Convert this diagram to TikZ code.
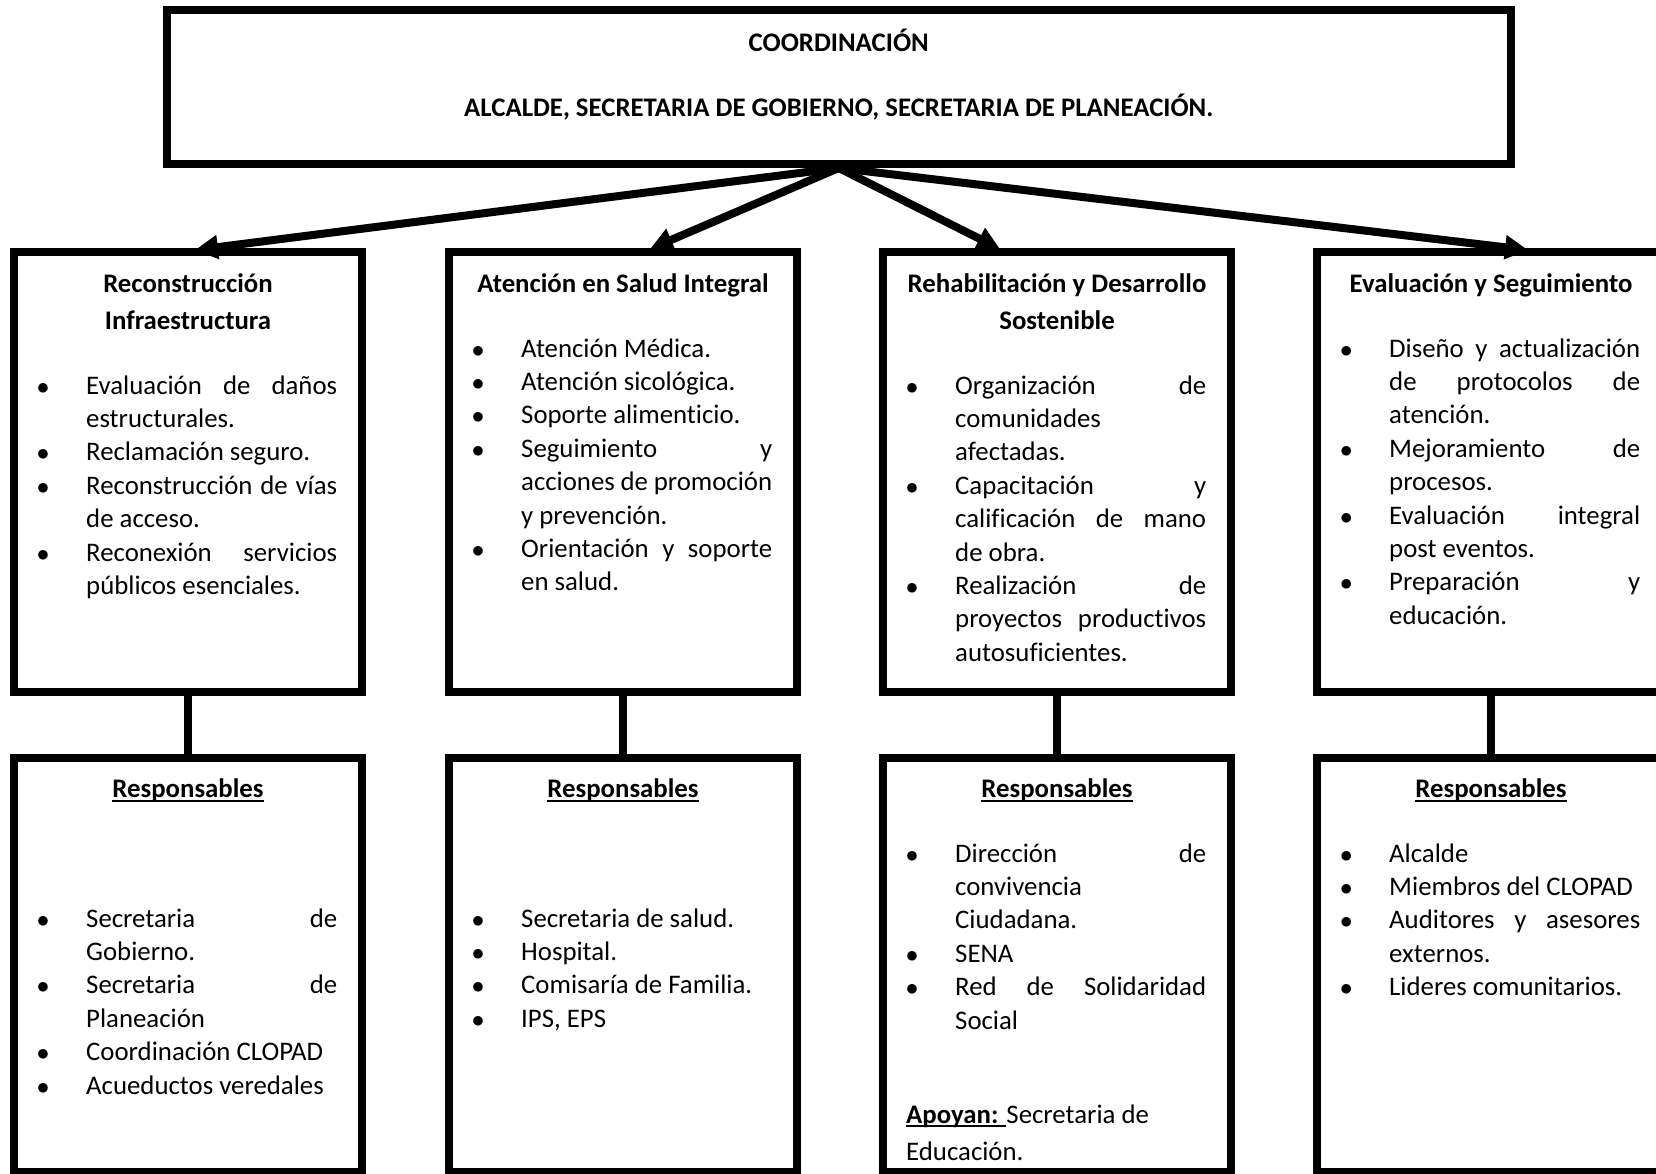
\documentclass[tikz,border=0pt]{standalone}
\usepackage{fontspec}
\setmainfont{Carlito}[RawFeature={-liga;-dlig;-clig}]
\usetikzlibrary{arrows.meta}
\newlength\colw \setlength\colw{251pt}
\newcommand\bulmark{\llap{\hbox to 43pt{\hbox to 0pt{\hss$\bullet$\hss}\hfil}}}
\newcommand\bj[1]{\hbox to\colw{\bulmark #1}}
\newcommand\bl[1]{\hbox to\colw{\bulmark #1\hfil}}
\newcommand\cj[1]{\hbox to\colw{#1}}
\newcommand\cl[1]{\hbox to\colw{#1\hfil}}
\newcommand\lst[1]{\vtop{\baselineskip=33.4pt\lineskiplimit=-100pt\hsize=\colw #1}}
\newcommand\twoc[2]{\vtop{\baselineskip=37pt\lineskiplimit=-100pt\halign{\hfil##\hfil\cr #1\cr #2\cr}}}
\newcommand\ulx[1]{\setbox0\hbox{#1}\rlap{\rule[-4pt]{\wd0}{2pt}}\box0}
\tikzset{
  every node/.style={font=\fontsize{26.8}{33.4}\selectfont, inner sep=0pt},
  boxx/.style={draw=black, line width=8pt, fill=none},
  rowone/.style={boxx, minimum width=348pt, minimum height=439.5pt},
  rowtwo/.style={boxx, minimum width=348pt, minimum height=414.5pt},
  hd/.style={anchor=base, font=\fontsize{26.8}{33.4}\selectfont\bfseries},
  txt/.style={anchor=base west},
  arr/.style={line width=8pt, -{Triangle[length=23pt,width=23pt]}},
  link/.style={line width=8pt}
}
\begin{document}
\begin{tikzpicture}[x=1pt,y=-1pt]
\useasboundingbox (0,0) rectangle (1656,1173);
\fill[white] (0,0) rectangle (1656,1173);

% top box
\node[boxx, minimum width=1344.5pt, minimum height=154pt] (top) at (838.75,87) {};
\node[hd] (c1) at (838.75,51) {COORDINACIÓN};
\node[hd] (c2) at (838.75,116) {ALCALDE, SECRETARIA DE GOBIERNO, SECRETARIA DE PLANEACIÓN.};

% row 1 boxes
\node[rowone] (r1) at (188,471.75) {};
\node[rowone] (r2) at (623,471.75) {};
\node[rowone] (r3) at (1057,471.75) {};
\node[rowone] (r4) at (1491,471.75) {};

% row 2 boxes
\node[rowtwo] (s1) at (188,964.75) {};
\node[rowtwo] (s2) at (623,964.75) {};
\node[rowtwo] (s3) at (1057,964.75) {};
\node[rowtwo] (s4) at (1491,964.75) {};

% arrows
\coordinate (a1) at (195,250);
\coordinate (a2) at (650,249);
\coordinate (a3) at (1000,249);
\coordinate (a4) at (1528,250);
\draw[arr] (top.south) -- (a1);
\draw[arr] (top.south) -- (a2);
\draw[arr] (top.south) -- (a3);
\draw[arr] (top.south) -- (a4);

% vertical links
\draw[link] (r1.south) -- (s1.north);
\draw[link] (r2.south) -- (s2.north);
\draw[link] (r3.south) -- (s3.north);
\draw[link] (r4.south) -- (s4.north);

% row 1 headers
\node[hd] (h1) at (188,292) {\twoc{Reconstrucción}{Infraestructura}};
\node[hd] (h2) at (623,292) {Atención en Salud Integral};
\node[hd] (h3) at (1057,292) {\twoc{Rehabilitación y Desarrollo}{Sostenible}};
\node[hd] (h4) at (1491,292) {Evaluación y Seguimiento};

% row 1 lists
\node[txt] (t1) at (86,394) {\lst{%
\bj{Evaluación de daños}
\cl{estructurales.}
\bl{Reclamación seguro.}
\bj{Reconstrucción de vías}
\cl{de acceso.}
\bj{Reconexión servicios}
\cl{públicos esenciales.}}};
\node[txt] (t2) at (521,357) {\lst{%
\bl{Atención Médica.}
\bl{Atención sicológica.}
\bl{Soporte alimenticio.}
\bj{Seguimiento y}
\cj{acciones de promoción}
\cl{y prevención.}
\bj{Orientación y soporte}
\cl{en salud.}}};
\node[txt] (t3) at (955,394) {\lst{%
\bj{Organización de}
\cl{comunidades}
\cl{afectadas.}
\bj{Capacitación y}
\cj{calificación de mano}
\cl{de obra.}
\bj{Realización de}
\cj{proyectos productivos}
\cl{autosuficientes.}}};
\node[txt] (t4) at (1389,357) {\lst{%
\bj{Diseño y actualización}
\cj{de protocolos de}
\cl{atención.}
\bj{Mejoramiento de}
\cl{procesos.}
\bj{Evaluación integral}
\cl{post eventos.}
\bj{Preparación y}
\cl{educación.}}};

% row 2 headers
\node[hd] (g1) at (188,797.5) {\ulx{Responsables}};
\node[hd] (g2) at (623,797.5) {\ulx{Responsables}};
\node[hd] (g3) at (1057,797.5) {\ulx{Responsables}};
\node[hd] (g4) at (1491,797.5) {\ulx{Responsables}};

% row 2 lists
\node[txt] (u1) at (86,927) {\lst{%
\bj{Secretaria de}
\cl{Gobierno.}
\bj{Secretaria de}
\cl{Planeación}
\bl{Coordinación CLOPAD}
\bl{Acueductos veredales}}};
\node[txt] (u2) at (521,927) {\lst{%
\bl{Secretaria de salud.}
\bl{Hospital.}
\bl{Comisaría de Familia.}
\bl{IPS, EPS}}};
\node[txt] (u3) at (955,862) {\lst{%
\bj{Dirección de}
\cl{convivencia}
\cl{Ciudadana.}
\bl{SENA}
\bj{Red de Solidaridad}
\cl{Social}}};
\node[txt] (ap) at (906,1123) {\vtop{\baselineskip=37pt\lineskiplimit=-100pt
\hbox{\ulx{\textbf{Apoyan: }}Secretaria de}
\hbox{Educación.}}};
\node[txt] (u4) at (1389,862) {\lst{%
\bl{Alcalde}
\bl{Miembros del CLOPAD}
\bj{Auditores y asesores}
\cl{externos.}
\bl{Lideres comunitarios.}}};
\end{tikzpicture}
\end{document}
